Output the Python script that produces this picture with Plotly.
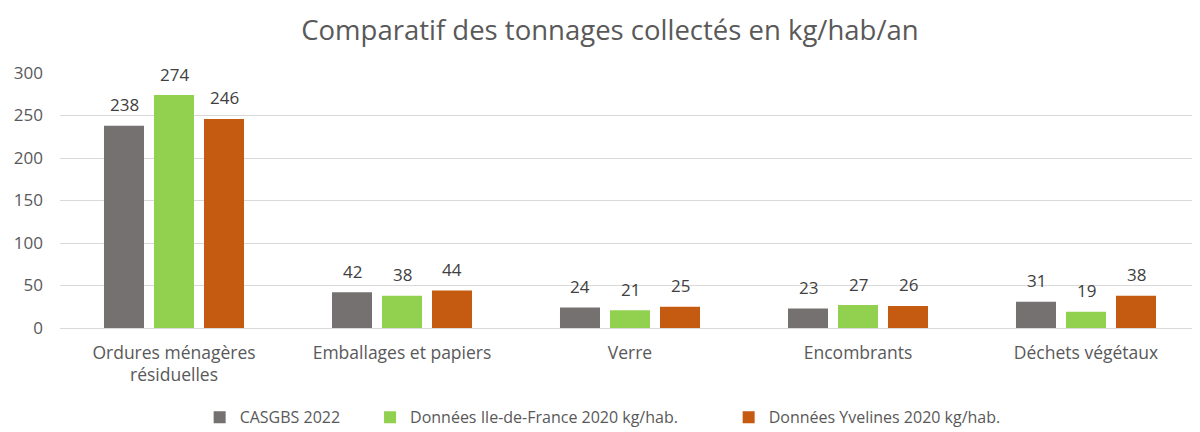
import plotly.graph_objects as go

categories = ["Ordures ménagères<br>résiduelles", "Emballages et papiers", "Verre", "Encombrants", "Déchets végétaux"]
casgbs_2022 = [238, 42, 24, 23, 31]
idf_2020 = [274, 38, 21, 27, 19]
yvelines_2020 = [246, 44, 25, 26, 38]
series_names = ["CASGBS 2022", "Données Ile-de-France 2020 kg/hab.", "Données Yvelines 2020 kg/hab."]
series_colors = ["#767171", "#92D050", "#C55A11"]
y_ticks = [0, 50, 100, 150, 200, 250, 300]

FONT = "Open Sans, Noto Sans, sans-serif"
NB = "\u00a0"
legend_pad = [NB * 6, NB * 11, ""]

fig = go.Figure()
all_series = [casgbs_2022, idf_2020, yvelines_2020]
for name, vals, col, pad in zip(series_names, all_series, series_colors, legend_pad):
    fig.add_trace(go.Bar(
        x=categories, y=vals, name=name + pad, marker=dict(color=col, line=dict(width=0)),
    ))

annotations = []
for i, vals in enumerate(all_series):
    for cat, v in zip(categories, vals):
        annotations.append(dict(
            x=cat, y=v, xref="x", yref="y", text=str(v), showarrow=False,
            xshift=(i - 1) * 50, yshift=21, yanchor="middle",
            font=dict(size=17, color="#404040", family=FONT),
        ))

fig.update_layout(
    width=1192, height=424,
    margin=dict(l=52, r=0, t=65, b=104, autoexpand=False),
    paper_bgcolor="white", plot_bgcolor="white",
    barmode="group", bargap=0.342, bargroupgap=0.2,
    title=dict(text="Comparatif des tonnages collectés en kg/hab/an", x=0.505, xanchor="center",
               y=0.948, yanchor="middle",
               font=dict(size=27.5, color="#595959", family=FONT)),
    font=dict(family=FONT, color="#595959"),
    showlegend=True,
    legend=dict(orientation="h", x=0.476, xanchor="center", y=-0.35, yanchor="middle",
                font=dict(size=16, color="#595959", family=FONT),
                itemsizing="constant", tracegroupgap=0, itemwidth=30),
    annotations=annotations,
    xaxis=dict(showgrid=False, showline=False, ticks="", ticklabelstandoff=12, automargin=False,
               tickfont=dict(size=17.5, color="#595959", family=FONT)),
    yaxis=dict(range=[0, 300], tickvals=y_ticks, showgrid=True, gridcolor="#D9D9D9", gridwidth=1,
               zeroline=True, zerolinecolor="#D9D9D9", zerolinewidth=1, showline=False, ticks="",
               ticklabelstandoff=16, automargin=False,
               tickfont=dict(size=17, color="#595959", family=FONT)),
)

fig.write_html("out.html")
